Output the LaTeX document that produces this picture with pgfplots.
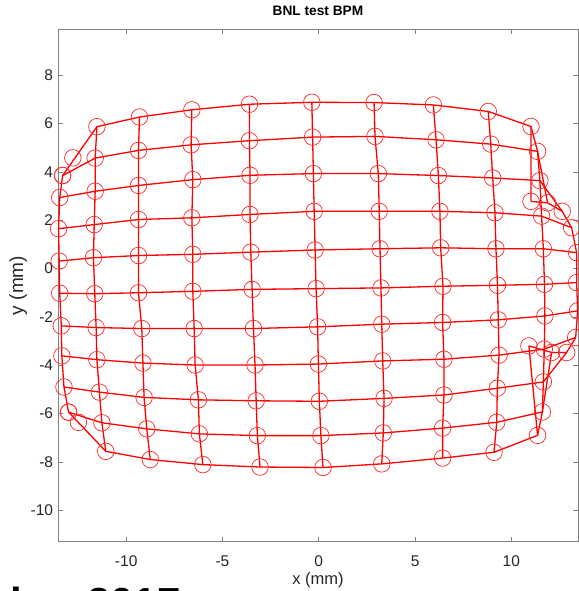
\documentclass[border=0pt]{standalone}
\usepackage{fontspec}
\setmainfont{Liberation Sans}
\usepackage{pgfplots}
\pgfplotsset{compat=1.18}
\usepackage{pgfplotstable}

\pgfplotstableread{
r c x y
1 1 -13.30 3.85
1 2 -11.52 5.87
1 3 -9.31 6.27
1 4 -6.59 6.57
1 5 -3.60 6.80
1 6 -0.36 6.88
1 7 2.87 6.87
1 8 5.95 6.77
1 9 8.80 6.50
1 10 11.02 5.88
1 11 11.02 2.78
2 1 -13.30 3.85
2 2 -11.61 4.57
2 3 -9.36 4.89
2 4 -6.63 5.12
2 5 -3.60 5.29
2 6 -0.32 5.44
2 7 2.92 5.47
2 8 6.09 5.33
2 9 8.93 5.15
2 10 11.36 4.85
2 11 11.88 2.72
3 1 -13.45 2.94
3 2 -11.61 3.20
3 3 -9.36 3.44
3 4 -6.54 3.68
3 5 -3.57 3.86
3 6 -0.28 3.93
3 7 3.09 3.93
3 8 6.21 3.85
3 9 9.03 3.75
3 10 11.48 3.64
3 11 12.64 2.37
4 1 -13.51 1.65
4 2 -11.66 1.82
4 3 -9.36 2.03
4 4 -6.59 2.10
4 5 -3.57 2.24
4 6 -0.24 2.37
4 7 3.14 2.37
4 8 6.29 2.37
4 9 9.15 2.31
4 10 11.57 2.17
4 11 13.13 1.69
5 1 -13.48 0.31
5 2 -11.70 0.45
5 3 -9.36 0.54
5 4 -6.54 0.59
5 5 -3.53 0.68
5 6 -0.19 0.77
5 7 3.18 0.82
5 8 6.33 0.86
5 9 9.20 0.82
5 10 11.66 0.82
5 11 13.39 0.66
6 1 -13.45 -1.02
6 2 -11.63 -1.04
6 3 -9.36 -1.00
6 4 -6.54 -0.94
6 5 -3.46 -0.86
6 6 -0.14 -0.83
6 7 3.23 -0.80
6 8 6.45 -0.73
6 9 9.28 -0.69
6 10 11.72 -0.65
6 11 13.39 -0.58
7 1 -13.37 -2.37
7 2 -11.56 -2.44
7 3 -9.19 -2.48
7 4 -6.47 -2.48
7 5 -3.39 -2.48
7 6 -0.06 -2.41
7 7 3.27 -2.30
7 8 6.43 -2.23
7 9 9.32 -2.12
7 10 11.74 -1.96
7 11 13.44 -1.75
8 1 -13.34 -3.61
8 2 -11.52 -3.77
8 3 -9.13 -3.91
8 4 -6.42 -3.99
8 5 -3.31 -3.99
8 6 -0.02 -3.95
8 7 3.32 -3.82
8 8 6.50 -3.75
8 9 9.36 -3.58
8 10 11.71 -3.33
8 11 13.34 -2.85
9 1 -13.23 -4.90
9 2 -11.39 -5.11
9 3 -9.07 -5.33
9 4 -6.25 -5.43
9 5 -3.25 -5.47
9 6 0.03 -5.49
9 7 3.39 -5.37
9 8 6.50 -5.23
9 9 9.27 -4.95
9 10 11.66 -4.69
9 11 12.87 -3.47
10 1 -12.99 -5.94
10 2 -11.26 -6.38
10 3 -8.93 -6.63
10 4 -6.20 -6.84
10 5 -3.19 -6.91
10 6 0.11 -6.91
10 7 3.35 -6.80
10 8 6.43 -6.60
10 9 9.24 -6.36
10 10 11.61 -5.93
10 11 12.09 -3.47
11 1 -12.99 -5.94
11 2 -11.06 -7.56
11 3 -8.75 -7.90
11 4 -6.02 -8.11
11 5 -3.05 -8.21
11 6 0.22 -8.23
11 7 3.27 -8.08
11 8 6.43 -7.84
11 9 9.10 -7.60
11 10 11.36 -6.90
11 11 10.91 -3.20
}\grid
% column-major copy of the same points (for the vertical grid lines)
\pgfplotstablecreatecol[expr={\thisrow{c}*100+\thisrow{r}}]{k}{\grid}
\pgfplotstablesort[sort key=k]{\gridc}{\grid}

\begin{document}
\begin{tikzpicture}
\begin{axis}[
  at={(58pt,-541.7pt)}, anchor=south west,
  scale only axis, width=520pt, height=512.4pt,
  xmin=-13.54, xmax=13.46, ymin=-11.3, ymax=9.9,
  axis line style={black!50, line width=0.8pt},
  tick style={black!50, line width=0.8pt},
  tick align=inside, major tick length=5pt,
  xtick={-10,-5,0,5,10}, xticklabels={-10,-5,0,5,10},
  ytick={-10,-8,-6,-4,-2,0,2,4,6,8},
  yticklabels={-10,-8,-6,-4,-2,0,2,4,6,8},
  ticklabel style={font=\fontsize{15.5}{18}\selectfont, text=black!85},
  xticklabel style={anchor=base, inner sep=0pt, yshift=-24.3pt},
  yticklabel style={anchor=east, inner sep=0pt, xshift=-4.7pt},
  xlabel={x (mm)}, ylabel={y (mm)},
  xlabel style={at={(axis description cs:0.5,-0.0747)}, anchor=center, inner sep=0pt,
    font=\fontsize{16.5}{19}\selectfont, text=black!85},
  ylabel style={at={(axis description cs:-0.0763,0.5)}, anchor=center, inner sep=0pt,
    font=\fontsize{19}{22}\selectfont, text=black!85},
  title={BNL test BPM},
  title style={at={(axis description cs:0.5,1)}, anchor=base, inner sep=0pt, yshift=7.6pt,
    font=\fontsize{13.7}{16}\selectfont\bfseries},
]
\pgfplotsinvokeforeach{1,...,11}{
  \addplot[red, line width=1.3pt, no marks, restrict expr to domain={\thisrow{r}}{#1:#1}] table[x=x,y=y] {\grid};
  \addplot[red, line width=1.3pt, no marks, restrict expr to domain={\thisrow{c}}{#1:#1}] table[x=x,y=y] {\gridc};
}
\addplot[only marks, mark=o, mark size=8.3pt, red!85, mark options={line width=0.7pt}] table[x=x,y=y] {\grid};
\addplot[only marks, mark=o, mark size=8.3pt, red!85, mark options={line width=0.7pt}] coordinates {(-12.77,4.58) (-12.48,-6.36)};
\end{axis}
\node[anchor=base west, inner sep=0pt, font=\fontsize{42}{50}\selectfont\bfseries] at (10pt,-617pt) {ber 2017};
\pgfresetboundingbox
\useasboundingbox (0pt,0pt) rectangle (578pt,-591pt);
\end{tikzpicture}
\end{document}
